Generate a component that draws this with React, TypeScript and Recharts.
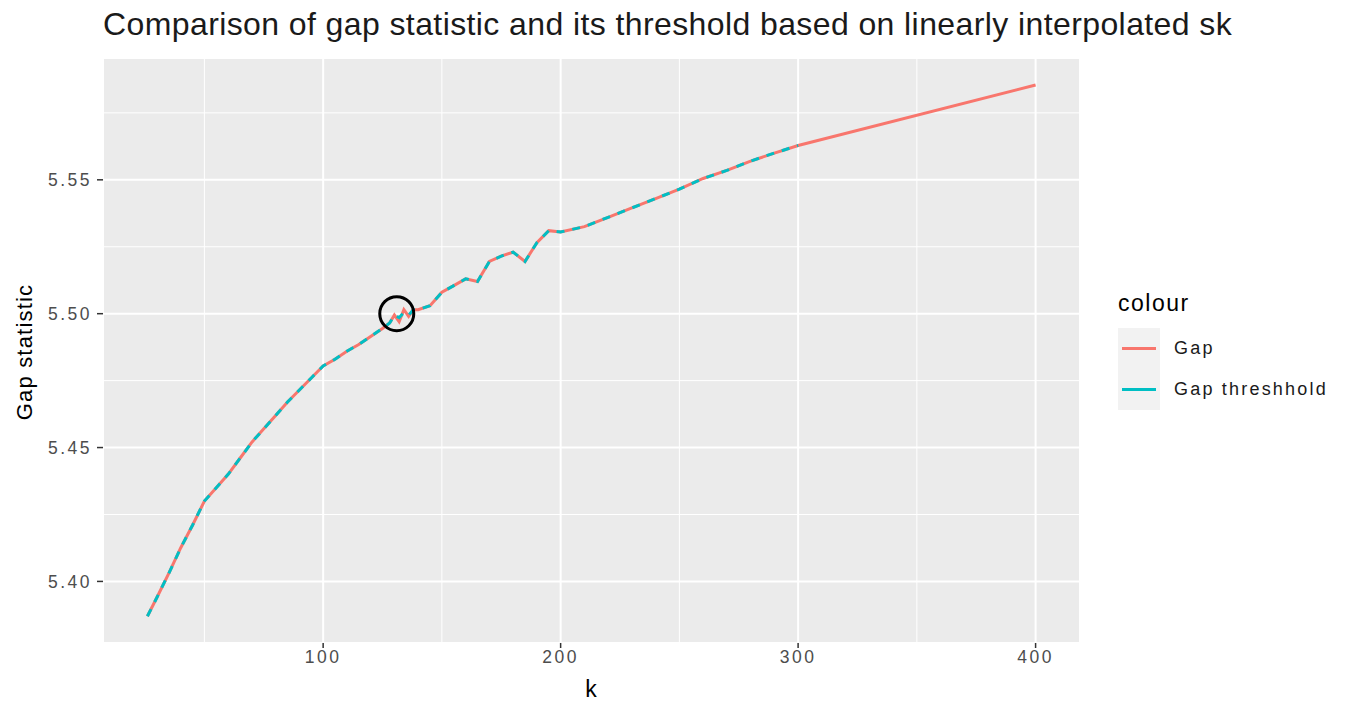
import {
  LineChart,
  Line,
  XAxis,
  YAxis,
  CartesianGrid,
  ReferenceLine,
  ReferenceDot,
} from "recharts";

// k values and gap statistic
const kValues = [
  26, 30, 35, 40, 45, 50, 55, 60, 65, 70, 75, 80, 85, 90, 95, 100, 105, 110,
  115, 120, 125, 128, 130, 132, 134, 136, 138, 140, 145, 150, 155, 160, 165,
  170, 175, 180, 185, 190, 195, 200, 210, 220, 230, 240, 250, 260, 270, 280,
  290, 300, 400,
];

const gapValues = [
  5.387, 5.394, 5.403, 5.4125, 5.421, 5.43, 5.435, 5.44, 5.446, 5.452, 5.457,
  5.462, 5.467, 5.4715, 5.476, 5.4805, 5.483, 5.486, 5.4885, 5.4915, 5.4945,
  5.4965, 5.4995, 5.497, 5.5015, 5.499, 5.5015, 5.5015, 5.503, 5.508, 5.5105,
  5.513, 5.512, 5.5195, 5.5215, 5.523, 5.5195, 5.5265, 5.531, 5.5305, 5.5325,
  5.536, 5.5395, 5.543, 5.5465, 5.5505, 5.5535, 5.557, 5.56, 5.5628, 5.5854,
];

// threshold stops at k = 300
const thresholdValues = [
  5.387, 5.394, 5.403, 5.4125, 5.421, 5.43, 5.435, 5.44, 5.446, 5.452, 5.457,
  5.462, 5.467, 5.4715, 5.476, 5.4805, 5.483, 5.486, 5.4885, 5.4915, 5.4945,
  5.4965, 5.4995, 5.4985, 5.5005, 5.4995, 5.5015, 5.5015, 5.503, 5.508, 5.5105,
  5.513, 5.512, 5.5195, 5.5215, 5.523, 5.5195, 5.5265, 5.531, 5.5305, 5.5325,
  5.536, 5.5395, 5.543, 5.5465, 5.5505, 5.5535, 5.557, 5.56, 5.5628,
];

const xTicks = [100, 200, 300, 400];
const yTicks = [5.4, 5.45, 5.5, 5.55];
const xMinor = [50, 150, 250, 350];
const yMinor = [5.425, 5.475, 5.525, 5.575];

const data = kValues.map((k, i) => ({
  k,
  gap: gapValues[i],
  threshold: i < thresholdValues.length ? thresholdValues[i] : null,
}));

const font = "'Liberation Sans', Arial, sans-serif";
const tickStyle = {
  fill: "#4D4D4D",
  fontSize: 17.5,
  fontFamily: font,
  letterSpacing: 2.5,
};

export default function App() {
  return (
    <div
      style={{
        position: "absolute",
        left: 0,
        top: 0,
        width: 1347,
        height: 707,
        background: "#fff",
        fontFamily: font,
      }}
    >
      {/* TITLE */}
      <div
        style={{
          position: "absolute",
          left: 103,
          top: 6,
          fontSize: 32,
          letterSpacing: 0.4,
          color: "#1a1a1a",
          whiteSpace: "nowrap",
        }}
      >
        Comparison of gap statistic and its threshold based on linearly
        interpolated sk
      </div>

      <LineChart
        width={1347}
        height={707}
        data={data}
        margin={{ top: 58, right: 267, left: 43, bottom: 34 }}
      >
        <CartesianGrid fill="#EBEBEB" stroke="#FFFFFF" strokeWidth={2} />
        {xMinor.map((v) => (
          <ReferenceLine key={"x" + v} x={v} stroke="#FFFFFF" strokeWidth={1} />
        ))}
        {yMinor.map((v) => (
          <ReferenceLine key={"y" + v} y={v} stroke="#FFFFFF" strokeWidth={1} />
        ))}
        <XAxis
          type="number"
          dataKey="k"
          domain={[7.3, 418.7]}
          ticks={xTicks}
          allowDataOverflow
          height={30}
          axisLine={false}
          tickLine={{ stroke: "#333333", strokeWidth: 1.5 }}
          tickSize={5}
          tickMargin={3}
          tick={tickStyle}
        />
        <YAxis
          type="number"
          domain={[5.377, 5.5955]}
          ticks={yTicks}
          allowDataOverflow
          width={60}
          axisLine={false}
          tickLine={{ stroke: "#333333", strokeWidth: 1.5 }}
          tickSize={6}
          tickMargin={5}
          tick={tickStyle}
          tickFormatter={(v: number) => v.toFixed(2)}
        />
        <Line
          type="linear"
          dataKey="gap"
          stroke="#F8766D"
          strokeWidth={3}
          dot={false}
          isAnimationActive={false}
        />
        <Line
          type="linear"
          dataKey="threshold"
          stroke="#00BFC4"
          strokeWidth={3}
          strokeDasharray="8 8"
          dot={false}
          connectNulls={false}
          isAnimationActive={false}
        />
        <ReferenceDot
          x={131}
          y={5.5}
          r={17}
          fill="none"
          stroke="#000000"
          strokeWidth={3}
        />
      </LineChart>

      {/* AXIS TITLES */}
      <div
        style={{
          position: "absolute",
          left: 591,
          top: 676,
          transform: "translateX(-50%)",
          fontSize: 23,
          color: "#000",
        }}
      >
        k
      </div>
      <div
        style={{
          position: "absolute",
          left: 25,
          top: 352,
          transform: "translate(-50%, -50%) rotate(-90deg)",
          fontSize: 22,
          letterSpacing: 1.2,
          color: "#000",
          whiteSpace: "nowrap",
        }}
      >
        Gap statistic
      </div>

      {/* LEGEND */}
      <div style={{ position: "absolute", left: 1118, top: 290 }}>
        <div
          style={{
            fontSize: 23,
            letterSpacing: 1.5,
            color: "#000",
            marginBottom: 11,
          }}
        >
          colour
        </div>
        {[
          { name: "Gap", color: "#F8766D" },
          { name: "Gap threshhold", color: "#00BFC4" },
        ].map((item) => (
          <div
            key={item.name}
            style={{ display: "flex", alignItems: "center", height: 41 }}
          >
            <div
              style={{
                width: 42,
                height: 41,
                background: "#F2F2F2",
                display: "flex",
                alignItems: "center",
                justifyContent: "center",
              }}
            >
              <div style={{ width: 34, height: 3, background: item.color }} />
            </div>
            <div
              style={{
                marginLeft: 14,
                fontSize: 18,
                letterSpacing: 2.2,
                color: "#1a1a1a",
                whiteSpace: "nowrap",
              }}
            >
              {item.name}
            </div>
          </div>
        ))}
      </div>
    </div>
  );
}
